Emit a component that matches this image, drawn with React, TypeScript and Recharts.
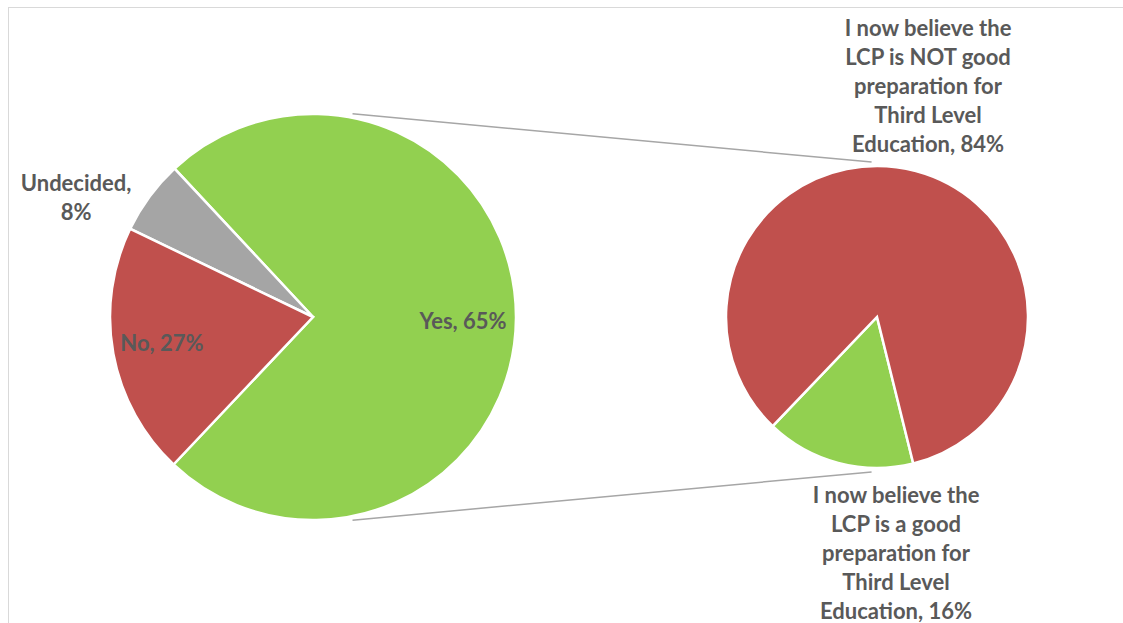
import React from "react";
import { PieChart, Pie, Cell, Customized } from "recharts";

// main pie (slice sizes) and its printed labels
const mainNames = ["Yes", "Undecided", "No"];
const mainShares = [74.0, 5.9, 20.1];
const mainLabels = [["Yes, 65%"], ["Undecided,", "8%"], ["No, 27%"]];

// secondary pie: breakdown of "Yes"
const subNames = ["good", "notGood"];
const subShares = [16, 84];
const subLabels = [
  ["I now believe the", "LCP is a good", "preparation for", "Third Level", "Education, 16%"],
  ["I now believe the", "LCP is NOT good", "preparation for", "Third Level", "Education, 84%"],
];

const GREEN = "#92D050";
const RED = "#C0504D";
const GRAY = "#A5A5A5";
const TEXT = "#595959";

const mainColors = [GREEN, GRAY, RED];
const subColors = [GREEN, RED];

const MAIN = { cx: 313, cy: 317, r: 203, start: -133.4 };
const SUB = { cx: 877, cy: 317, r: 151, start: -133.7 };

// label offsets as fractions of the pie radius, relative to centre
const LABEL_POS: Record<string, [number, number]> = {
  Yes: [0.739, 0.015],
  Undecided: [-1.167, -0.594],
  No: [-0.744, 0.123],
  good: [0.126, 1.553],
  notGood: [0.338, -1.536],
};

const mainData = mainNames.map((name, i) => ({
  name,
  value: mainShares[i],
  lines: mainLabels[i],
}));
const subData = subNames.map((name, i) => ({
  name,
  value: subShares[i],
  lines: subLabels[i],
}));

const FONT_SIZE = 22;
const LINE_H = 29;

const renderLabel = (props: any) => {
  const { cx, cy, outerRadius, payload } = props;
  const [fx, fy] = LABEL_POS[payload.name];
  const x = cx + fx * outerRadius;
  const y = cy + fy * outerRadius;
  const lines: string[] = payload.lines;
  const top = y - ((lines.length - 1) * LINE_H) / 2;
  return (
    <text
      x={x}
      y={top}
      textAnchor="middle"
      dominantBaseline="central"
      fill={TEXT}
      fontSize={FONT_SIZE}
      fontWeight="bold"
      fontFamily="Lato, 'Open Sans', sans-serif"
    >
      {lines.map((l, i) => (
        <tspan key={i} x={x} y={top + i * LINE_H}>
          {l}
        </tspan>
      ))}
    </text>
  );
};

const pt = (c: { cx: number; cy: number }, r: number, deg: number) => {
  const a = (deg * Math.PI) / 180;
  return [c.cx + r * Math.cos(a), c.cy - r * Math.sin(a)];
};

const Connectors = () => {
  const lines = [1, -1].map((s) => {
    const [x1, y1] = pt(MAIN, MAIN.r + 4, 79 * s);
    const [x2, y2] = pt(SUB, SUB.r + 4, 92 * s);
    return { x1, y1, x2, y2 };
  });
  return (
    <g>
      {lines.map((l, i) => (
        <line key={i} {...l} stroke="#A6A6A6" strokeWidth={1.5} />
      ))}
    </g>
  );
};

export default function App() {
  return (
    <div
      style={{
        position: "absolute",
        left: 0,
        top: 0,
        width: 1123,
        height: 623,
        overflow: "hidden",
        background: "#fff",
      }}
    >
      <div
        style={{
          position: "absolute",
          left: 8,
          top: 7,
          width: 1200,
          height: 800,
          borderTop: "1.5px solid #D9D9D9",
          borderLeft: "1.5px solid #D9D9D9",
        }}
      />
      <div style={{ position: "absolute", left: 0, top: 0 }}>
        <PieChart
          width={1123}
          height={623}
          margin={{ top: 0, right: 0, bottom: 0, left: 0 }}
        >
          <Customized component={Connectors} />
          <Pie
            data={mainData}
            dataKey="value"
            nameKey="name"
            cx={MAIN.cx}
            cy={MAIN.cy}
            outerRadius={MAIN.r}
            startAngle={MAIN.start}
            endAngle={MAIN.start + 360}
            stroke="#fff"
            strokeWidth={2.5}
            label={renderLabel}
            labelLine={false}
            isAnimationActive={false}
          >
            {mainData.map((d, i) => (
              <Cell key={d.name} fill={mainColors[i]} />
            ))}
          </Pie>
          <Pie
            data={subData}
            dataKey="value"
            nameKey="name"
            cx={SUB.cx}
            cy={SUB.cy}
            outerRadius={SUB.r}
            startAngle={SUB.start}
            endAngle={SUB.start + 360}
            stroke="#fff"
            strokeWidth={2.5}
            label={renderLabel}
            labelLine={false}
            isAnimationActive={false}
          >
            {subData.map((d, i) => (
              <Cell key={d.name} fill={subColors[i]} />
            ))}
          </Pie>
        </PieChart>
      </div>
    </div>
  );
}
